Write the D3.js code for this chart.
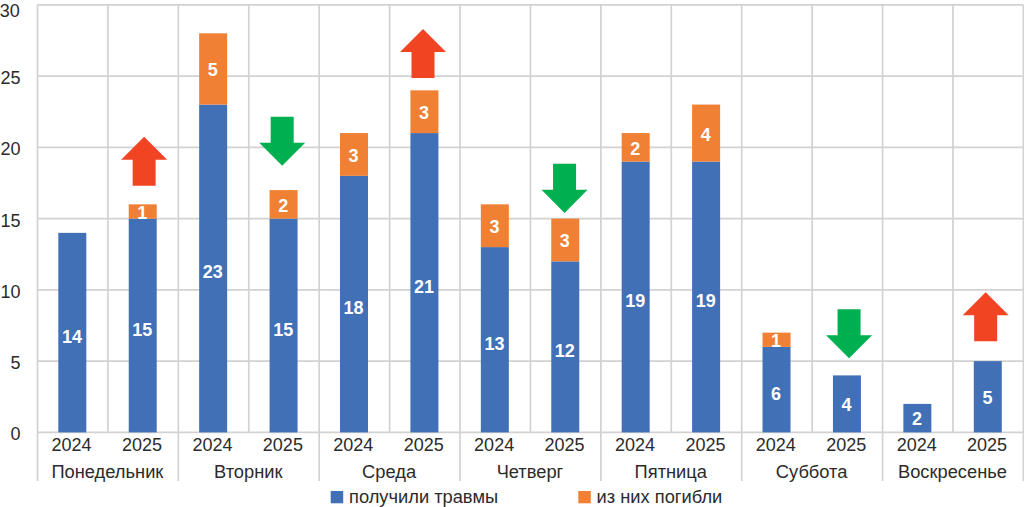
<!DOCTYPE html>
<html><head><meta charset="utf-8">
<script src="https://cdn.jsdelivr.net/npm/d3@7"></script>
<style>html,body{margin:0;padding:0;background:#fff}svg{display:block}text{font-family:"Liberation Sans",Arial,sans-serif}</style>
</head><body><svg id="c" width="1024" height="507"></svg>
<script>
const days=["Понедельник","Вторник","Среда","Четверг","Пятница","Суббота","Воскресенье"];
const years=["2024","2025"];
const injured=[14,15,23,15,18,21,13,12,19,19,6,4,2,5];
const killed=[0,1,5,2,3,3,3,3,2,4,1,0,0,0];
const yTicks=[0,5,10,15,20,25,30];
const seriesNames=["получили травмы","из них погибли"];
const seriesColors=["#4270b7","#f08033"];
const arrowPos=[1.02,2.98,4.98,6.99,11.03,12.97];
const arrowDir=["up","down","up","down","down","up"];
const arrowLow=[17.3,18.7,24.87,15.4,5.2,6.4];

const L=37.5,R=1023.4,T=4.8,B=432.4,grid="#d2d2d2",ink="#2b2b2b";
const svg=d3.select("#c");
const keys=d3.range(injured.length);
const x=d3.scaleBand().domain(keys).range([L,R]);
const y=d3.scaleLinear().domain([0,30]).range([B,T]);
const bw=28;
const cx=i=>x(i)+x.bandwidth()/2-0.4;
const xPos=d3.scaleLinear().domain([0,13]).range([cx(0),cx(13)]);

// grid
svg.append("g").selectAll("line").data(yTicks).join("line")
 .attr("x1",L).attr("x2",1023).attr("y1",d=>y(d)).attr("y2",d=>y(d))
 .attr("stroke",grid).attr("stroke-width",1.7);
svg.append("g").selectAll("line").data(d3.range(injured.length+1)).join("line")
 .attr("x1",i=>L+i*x.step()).attr("x2",i=>L+i*x.step())
 .attr("y1",T).attr("y2",i=>i%2==0?481:B)
 .attr("stroke",grid).attr("stroke-width",1.7);

// y labels
svg.append("g").selectAll("text").data(yTicks).join("text")
 .attr("x",d=>d===30?19.8:20.5).attr("y",d=>d===30?16.5:y(d)+8).attr("text-anchor","end")
 .attr("font-size",18).attr("fill",ink).text(d=>d);

// bars
svg.append("g").selectAll("rect").data(keys).join("rect")
 .attr("x",i=>cx(i)-bw/2).attr("width",bw)
 .attr("y",i=>y(injured[i])).attr("height",i=>y(0)-y(injured[i]))
 .attr("fill",seriesColors[0]);
svg.append("g").selectAll("rect").data(keys.filter(i=>killed[i]>0)).join("rect")
 .attr("x",i=>cx(i)-bw/2).attr("width",bw)
 .attr("y",i=>y(injured[i]+killed[i])).attr("height",i=>y(0)-y(killed[i]))
 .attr("fill",seriesColors[1]);

// value labels
const lab=svg.append("g").attr("font-size",18).attr("font-weight","bold").attr("fill","#fff").attr("text-anchor","middle");
lab.selectAll("text.a").data(keys).join("text").attr("class","a")
 .attr("x",i=>cx(i)-0.4).attr("y",i=>y(injured[i]/2)+6.5+(injured[i]>=6?3.5:0.5)).text(i=>injured[i]);
lab.selectAll("text.b").data(keys.filter(i=>killed[i]>0)).join("text").attr("class","b")
 .attr("x",i=>cx(i)-0.4).attr("y",i=>y(injured[i]+killed[i]/2)+7.5).text(i=>killed[i]);

// year and day labels
svg.append("g").selectAll("text").data(keys).join("text")
 .attr("x",i=>cx(i)-0.7).attr("y",450.5).attr("text-anchor","middle")
 .attr("font-size",18).attr("fill",ink).text(i=>years[i%2]);
svg.append("g").selectAll("text").data(days).join("text")
 .attr("x",(d,i)=>L+(2*i+1)*x.step()-0.5).attr("y",478).attr("text-anchor","middle")
 .attr("font-size",18.3).attr("fill",ink).text(d=>d);

// arrows
const arrowH=y(0)-y(3.44), shaft=11.5, head=23;
const ag=svg.append("g");
arrowPos.forEach((p,k)=>{
  const c=xPos(p), lo=y(arrowLow[k]), hi=lo-arrowH, hl=arrowH*0.47;
  const up=arrowDir[k]==="up";
  const tip=up?hi:lo, base=up?lo:hi, neck=up?tip+hl:tip-hl;
  ag.append("path").attr("fill",up?"#f04423":"#00b050")
    .attr("d",d3.line()([[c,tip],[c+head,neck],[c+shaft,neck],[c+shaft,base],[c-shaft,base],[c-shaft,neck],[c-head,neck]])+"Z");
});

// legend
const lx=[330.7,578.3];
const lg=svg.append("g");
seriesNames.forEach((n,i)=>{
  lg.append("rect").attr("x",lx[i]).attr("y",491).attr("width",12.5).attr("height",12.3).attr("fill",seriesColors[i]);
  lg.append("text").attr("x",lx[i]+18.3).attr("y",503.4).attr("font-size",18.3).attr("fill",ink).text(n);
});
</script></body></html>
